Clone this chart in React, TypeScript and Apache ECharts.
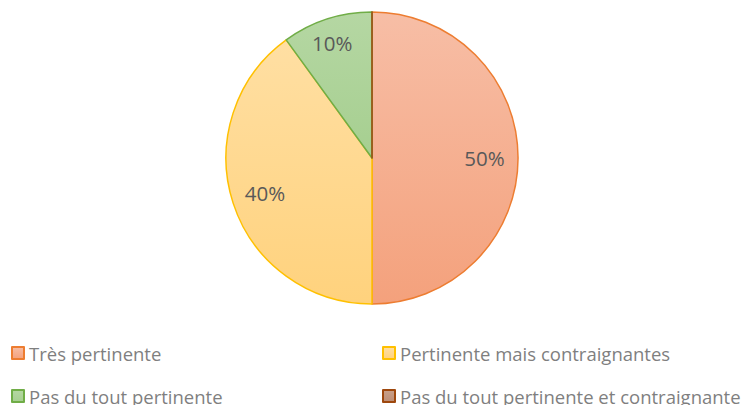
import React, { useEffect, useRef } from "react";
import * as echarts from "echarts";

const categories = [
  "Très pertinente",
  "Pertinente mais contraignantes",
  "Pas du tout pertinente",
  "Pas du tout pertinente et contraignante",
];
const values = [50, 40, 10, 0];
const labels = ["50%", "40%", "10%", ""];
const fillTop = ["#F7BEA6", "#FFDFA3", "#B5D7A3", "#C9A08A"];
const fillBottom = ["#F4A17C", "#FFD27D", "#A6CF90", "#BD8E76"];
const borders = ["#ED7D31", "#FFC000", "#70AD47", "#9E480E"];
const labelOffsets = [[0, 0], [0, 0], [-5, -8], [0, 0]];

const FONT = "'Open Sans', sans-serif";

export default function App() {
  const ref = useRef<HTMLDivElement>(null);
  useEffect(() => {
    const chart = echarts.init(ref.current!, null, { renderer: "svg" });
    const data = categories.map((name, i) => ({
      name,
      value: values[i],
      itemStyle: {
        color: new echarts.graphic.LinearGradient(0, 0, 0, 1, [
          { offset: 0, color: fillTop[i] },
          { offset: 1, color: fillBottom[i] },
        ]),
        borderColor: borders[i],
        borderWidth: 1.5,
      },
    }));
    const labelData = categories.map((name, i) => ({
      name,
      value: values[i],
      label: { show: values[i] > 0, formatter: labels[i], offset: labelOffsets[i] },
    }));
    const legendPos = [
      { left: 11, top: 343 },
      { left: 382, top: 343 },
      { left: 11, top: 386 },
      { left: 382, top: 386 },
    ];
    chart.setOption({
      animation: false,
      legend: categories.map((name, i) => ({
        data: [name],
        left: legendPos[i].left,
        top: legendPos[i].top,
        padding: 0,
        icon: "rect",
        itemWidth: 12,
        itemHeight: 12,
        selectedMode: false,
        textStyle: { color: "#7F7F7F", fontSize: 18.5, fontFamily: FONT, lineHeight: 20 },
      })),
      series: [
        {
          type: "pie",
          center: [372, 158],
          radius: [0, 146],
          startAngle: 90,
          clockwise: true,
          label: { show: false },
          labelLine: { show: false },
          emphasis: { disabled: true },
          silent: true,
          data,
        },
        {
          type: "pie",
          center: [372, 158],
          radius: [73, 146],
          startAngle: 90,
          clockwise: true,
          silent: true,
          emphasis: { disabled: true },
          itemStyle: { color: "rgba(0,0,0,0)", borderWidth: 0 },
          label: {
            show: true,
            position: "inside",
            color: "#595959",
            fontSize: 20.5,
            fontFamily: FONT,
          },
          labelLine: { show: false },
          legendHoverLink: false,
          data: labelData,
        },
      ],
    });
    return () => chart.dispose();
  }, []);
  return (
    <div
      ref={ref}
      style={{ position: "fixed", left: 0, top: 0, width: 742, height: 405, background: "#fff" }}
    />
  );
}
